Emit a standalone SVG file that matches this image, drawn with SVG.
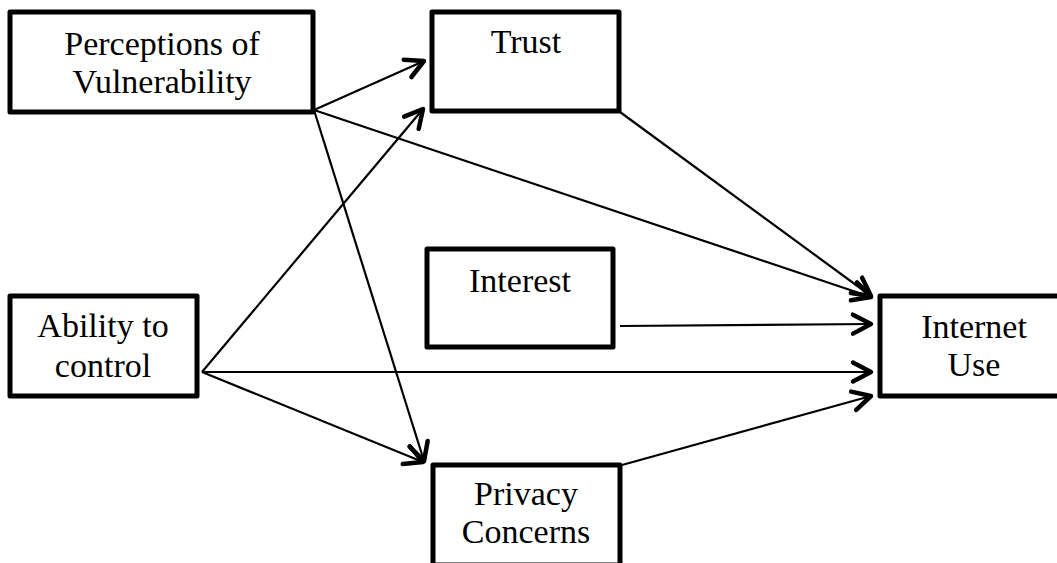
<svg xmlns="http://www.w3.org/2000/svg" width="1057" height="563" viewBox="0 0 1057 563">
  <defs>
    <style>
      .box { fill: #ffffff; stroke: #000000; stroke-width: 5; stroke-linejoin: round; }
      .label { font-family: "Liberation Serif", "Times New Roman", serif; font-size: 34px; fill: #000000; text-anchor: middle; }
      .edge { fill: none; stroke: #000000; stroke-width: 2.2; marker-end: url(#chevron); }
    </style>
    <!-- open chevron arrowhead, thick with rounded ends -->
    <marker id="chevron" markerUnits="userSpaceOnUse" viewBox="-24 -15 30 30" refX="0" refY="0" markerWidth="30" markerHeight="30" orient="auto" overflow="visible">
      <path d="M -18 -9.5 L 0 0 L -18 9.5" fill="none" stroke="#000000" stroke-width="4.5" stroke-linecap="round" stroke-linejoin="round"/>
    </marker>
  </defs>

  <rect width="1057" height="563" fill="#ffffff"/>

  <g id="connectors">
    <line class="edge" x1="314" y1="110" x2="424" y2="61"/>
    <line class="edge" x1="202" y1="372" x2="423" y2="109"/>
    <line class="edge" x1="314" y1="110" x2="424" y2="461"/>
    <line class="edge" x1="202" y1="372" x2="423" y2="462"/>
    <line class="edge" x1="314" y1="110" x2="871" y2="297"/>
    <line class="edge" x1="620" y1="112" x2="871" y2="296"/>
    <line class="edge" x1="620" y1="326" x2="871" y2="324"/>
    <line class="edge" x1="202" y1="372" x2="871" y2="372"/>
    <line class="edge" x1="622" y1="465" x2="871" y2="396"/>
  </g>

  <g id="perceptions">
    <rect class="box" x="10" y="12" width="303" height="100"/>
    <text class="label" x="162" y="55">Perceptions of</text>
    <text class="label" x="162" y="93">Vulnerability</text>
  </g>

  <g id="trust">
    <rect class="box" x="432" y="12" width="187" height="99"/>
    <text class="label" x="526" y="53">Trust</text>
  </g>

  <g id="interest">
    <rect class="box" x="427" y="249" width="186" height="98"/>
    <text class="label" x="520" y="292">Interest</text>
  </g>

  <g id="ability">
    <rect class="box" x="10" y="296" width="187" height="100"/>
    <text class="label" x="103" y="337">Ability to</text>
    <text class="label" x="103" y="377">control</text>
  </g>

  <g id="internet-use">
    <rect class="box" x="880" y="296" width="188" height="100"/>
    <text class="label" x="974" y="338">Internet</text>
    <text class="label" x="974" y="376">Use</text>
  </g>

  <g id="privacy">
    <rect class="box" x="433" y="465" width="187" height="100"/>
    <text class="label" x="526" y="505">Privacy</text>
    <text class="label" x="526" y="543">Concerns</text>
  </g>
</svg>
